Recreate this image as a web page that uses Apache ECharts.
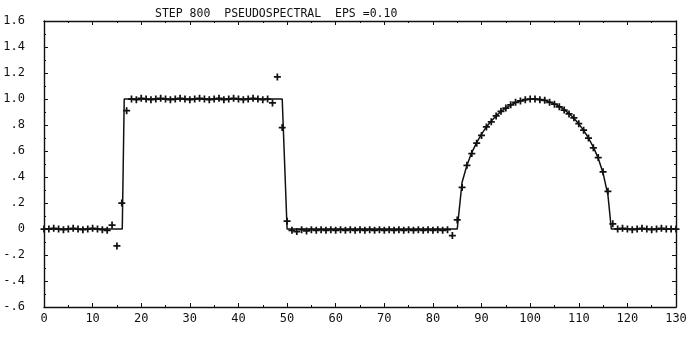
<!DOCTYPE html>
<html>
<head>
<meta charset="utf-8">
<script src="https://cdn.jsdelivr.net/npm/echarts@6.0.0/dist/echarts.min.js"></script>
<style>
html,body{margin:0;padding:0;background:#fff;}
#chart{width:691px;height:339px;}
</style>
</head>
<body>
<div id="chart"></div>
<script>
// ---- data ----
const titleText = 'STEP 800  PSEUDOSPECTRAL  EPS =0.10';
const yTickLabels = ['-.6','-.4','-.2','0','.2','.4','.6','.8','1.0','1.2','1.4','1.6'];
const xTickLabels = ['0','10','20','30','40','50','60','70','80','90','100','110','120','130'];

// exact solution (solid line)
const lineX = [0, 16.1, 16.5, 49, 50, 85, 86, 87, 88, 89, 90, 91, 92, 93, 94, 95, 96, 97, 98, 99, 100,
  101, 102, 103, 104, 105, 106, 107, 108, 109, 110, 111, 112, 113, 114, 115, 116, 116.7, 130];
const lineY = [0, 0, 1, 1, 0, 0, 0.36, 0.49, 0.59, 0.665, 0.73, 0.785, 0.83, 0.87, 0.905, 0.93, 0.955, 0.972, 0.985, 0.994, 0.999,
  1.0, 0.997, 0.99, 0.978, 0.963, 0.943, 0.918, 0.888, 0.852, 0.809, 0.759, 0.70, 0.63, 0.545, 0.43, 0.26, 0, 0];

// numerical solution (crosses), one per grid point x = 0..130
const crossY = [
  0, 0, 0.005, 0, -0.005, 0, 0.005, 0, -0.005, 0,            // 0-9
  0.005, 0, -0.005, -0.01, 0.03, -0.13, 0.2, 0.91, 1.0, 0.995, // 10-19
  1.005, 1.0, 0.995, 1.0, 1.005, 1.0, 0.995, 1.0, 1.005, 1.0,  // 20-29
  0.995, 1.0, 1.005, 1.0, 0.995, 1.0, 1.005, 0.995, 1.0, 1.005,// 30-39
  1.0, 0.995, 1.0, 1.005, 1.0, 0.995, 1.0, 0.97, 1.17, 0.78,   // 40-49
  0.06, -0.01, -0.02, -0.005, -0.015, -0.005, -0.01, -0.005, -0.01, -0.005, // 50-59
  -0.01, -0.005, -0.01, -0.005, -0.01, -0.005, -0.01, -0.005, -0.01, -0.005, // 60-69
  -0.01, -0.005, -0.01, -0.005, -0.01, -0.005, -0.01, -0.005, -0.01, -0.005, // 70-79
  -0.01, -0.005, -0.01, -0.005, -0.05, 0.07, 0.32, 0.49, 0.58, 0.66,         // 80-89
  0.72, 0.785, 0.825, 0.87, 0.905, 0.93, 0.955, 0.975, 0.985, 0.995,          // 90-99
  1.0, 1.0, 0.995, 0.99, 0.975, 0.96, 0.94, 0.915, 0.885, 0.855,             // 100-109
  0.81, 0.76, 0.70, 0.625, 0.55, 0.44, 0.29, 0.04, 0, 0.005,                 // 110-119
  0, -0.005, 0, 0.005, 0, -0.005, 0, 0.005, 0, 0, 0                          // 120-130
];

// ---- chart ----
const lineData = lineX.map((x, i) => [x, lineY[i]]);
const crossData = crossY.map((y, i) => [i, y]);
const yMin = -0.6, yMax = 1.6, yStep = 0.2;
const plus = 'path://M3.75,0h2.5v3.75h3.75v2.5h-3.75v3.75h-2.5v-3.75h-3.75v-2.5h3.75z';
const ink = '#111';
const font = 'DejaVu Sans Mono';

const chart = echarts.init(document.getElementById('chart'), null, {renderer: 'canvas'});
const axisCommon = {
  axisLine: {show: true, onZero: false, lineStyle: {color: ink, width: 1.4}},
  axisTick: {show: true, inside: true, length: 4, lineStyle: {color: ink, width: 1}},
  minorTick: {show: true, splitNumber: 2, length: 2, lineStyle: {color: ink, width: 1}},
  splitLine: {show: false}
};
chart.setOption({
  animation: false,
  backgroundColor: '#fff',
  title: {
    text: titleText, left: 150, top: 3,
    textStyle: {fontFamily: font, fontSize: 11.5, fontWeight: 'normal', color: ink}
  },
  grid: {left: 44, right: 15, top: 21, bottom: 32},
  xAxis: [
    Object.assign({
      type: 'value', min: 0, max: 130, interval: 10, position: 'bottom',
      axisLabel: {
        show: true, margin: 6, color: ink, fontFamily: font, fontSize: 12,
        formatter: v => xTickLabels[Math.round(v / 10)]
      }
    }, axisCommon),
    Object.assign({
      type: 'value', min: 0, max: 130, interval: 10, position: 'top',
      axisLabel: {show: false}
    }, axisCommon)
  ],
  yAxis: [
    Object.assign({
      type: 'value', min: yMin, max: yMax, interval: yStep, position: 'left',
      axisLabel: {
        show: true, margin: 19, color: ink, fontFamily: font, fontSize: 12,
        formatter: v => yTickLabels[Math.round((v - yMin) / yStep)]
      }
    }, axisCommon),
    Object.assign({
      type: 'value', min: yMin, max: yMax, interval: yStep, position: 'right',
      axisLabel: {show: false}
    }, axisCommon)
  ],
  series: [
    {
      type: 'line', data: lineData, xAxisIndex: 0, yAxisIndex: 0,
      showSymbol: false, symbol: 'none',
      lineStyle: {color: ink, width: 1.5}, z: 2
    },
    {
      type: 'scatter', data: crossData, xAxisIndex: 0, yAxisIndex: 0,
      symbol: plus, symbolSize: 7,
      itemStyle: {color: ink, opacity: 1}, z: 3
    }
  ]
});
</script>
</body>
</html>
